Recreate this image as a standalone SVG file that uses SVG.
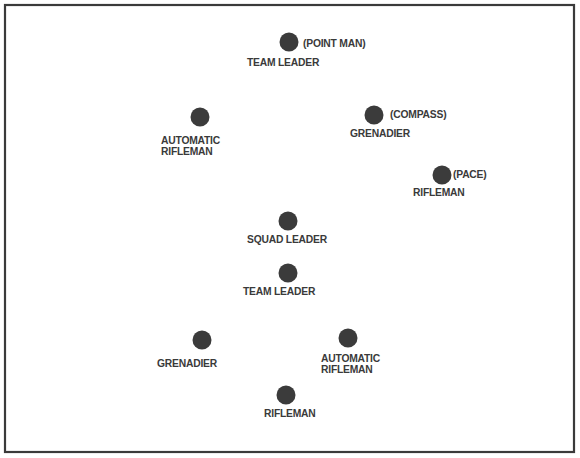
<svg xmlns="http://www.w3.org/2000/svg" width="580" height="458" viewBox="0 0 580 458">
<style>
.bg{fill:#ffffff}
.frame{fill:none;stroke:#3a3a3a;stroke-width:2.2}
.dot{fill:#3b3b3b}
.lbl{font-family:"Liberation Sans",Arial,sans-serif;font-size:10.3px;font-weight:bold;fill:#3a3a3a;letter-spacing:-0.2px}
</style>
<rect class="bg" x="0" y="0" width="580" height="458"/>
<rect class="frame" x="5" y="5" width="569" height="447"/>
<g id="connectors"></g>
<g id="team-leader-point">
<circle class="dot" cx="289" cy="42" r="9.5"/>
<text class="lbl" x="303" y="47">(POINT MAN)</text>
<text class="lbl" x="247" y="66">TEAM LEADER</text>
</g>
<g id="automatic-rifleman-1">
<circle class="dot" cx="200" cy="117" r="9.5"/>
<text class="lbl" x="161" y="144">AUTOMATIC</text>
<text class="lbl" x="161" y="155">RIFLEMAN</text>
</g>
<g id="grenadier-compass">
<circle class="dot" cx="374" cy="115" r="9.5"/>
<text class="lbl" x="390" y="118">(COMPASS)</text>
<text class="lbl" x="350" y="137">GRENADIER</text>
</g>
<g id="rifleman-pace">
<circle class="dot" cx="442" cy="175" r="9.5"/>
<text class="lbl" x="453" y="178">(PACE)</text>
<text class="lbl" x="413" y="196">RIFLEMAN</text>
</g>
<g id="squad-leader">
<circle class="dot" cx="288" cy="221" r="9.5"/>
<text class="lbl" x="247" y="243">SQUAD LEADER</text>
</g>
<g id="team-leader-2">
<circle class="dot" cx="288" cy="273" r="9.5"/>
<text class="lbl" x="243" y="295">TEAM LEADER</text>
</g>
<g id="grenadier-2">
<circle class="dot" cx="202" cy="340" r="9.5"/>
<text class="lbl" x="157" y="367">GRENADIER</text>
</g>
<g id="automatic-rifleman-2">
<circle class="dot" cx="348" cy="338" r="9.5"/>
<text class="lbl" x="321" y="362">AUTOMATIC</text>
<text class="lbl" x="321" y="373">RIFLEMAN</text>
</g>
<g id="rifleman-2">
<circle class="dot" cx="286" cy="395" r="9.5"/>
<text class="lbl" x="264" y="417">RIFLEMAN</text>
</g>
</svg>
